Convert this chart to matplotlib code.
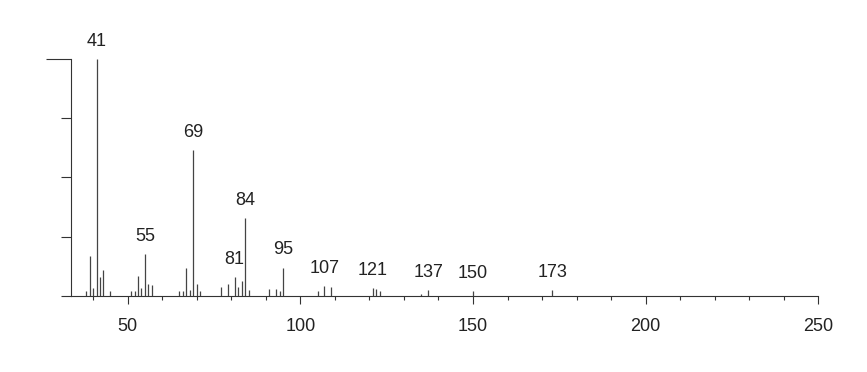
import matplotlib.pyplot as plt
from matplotlib.ticker import FixedLocator

plt.rcParams['font.family'] = ['Liberation Sans', 'DejaVu Sans']

# m/z and relative intensity (%)
mz = [38, 39, 40, 41, 42, 43, 45,
      51, 52, 53, 54, 55, 56, 57,
      65, 66, 67, 68, 69, 70, 71,
      77, 79, 81, 82, 83, 84, 85,
      91, 93, 94, 95,
      105, 107, 109,
      121, 122, 123,
      135, 137, 150, 173]
intensity = [2, 17, 3.5, 100, 8, 11, 2,
             2, 2, 8.5, 3.5, 17.5, 5, 4.5,
             2, 2, 12, 2.5, 61.5, 5, 2,
             4, 5, 8, 4, 6.5, 33, 2.5,
             3, 3, 2, 12,
             2, 4.3, 4,
             3.2, 2.8, 2,
             1, 2.4, 2, 2.5]

labelled = [41, 55, 69, 81, 84, 95, 107, 121, 137, 150, 173]

major_x = [50, 100, 150, 200, 250]
minor_x = [40, 60, 70, 80, 90, 110, 120, 130, 140, 160, 170, 180, 190,
           210, 220, 230, 240]

fig = plt.figure(figsize=(8.67, 3.72), dpi=100)
ax = fig.add_axes([0.0815, 0.2043, 0.8624, 0.6505])

ax.vlines(mz, 0, intensity, color='#444444', linewidth=0.9)

for m in labelled:
    h = intensity[mz.index(m)]
    ax.annotate(str(m), (m, h), xytext=(0, 9.5), textcoords='offset points',
                ha='center', va='baseline', fontsize=13, color='#222222',
                annotation_clip=False)

ax.set_xlim(33.5, 250)
ax.set_ylim(0, 102)

for s in ['top', 'right']:
    ax.spines[s].set_visible(False)
ax.spines['left'].set_bounds(0, 100)
ax.spines['bottom'].set_bounds(33.5, 250)
for s in ['left', 'bottom']:
    ax.spines[s].set_color('#333333')
    ax.spines[s].set_linewidth(0.8)

ax.xaxis.set_major_locator(FixedLocator(major_x))
ax.xaxis.set_minor_locator(FixedLocator(minor_x))
ax.tick_params(axis='x', which='major', direction='out', length=5.5,
               width=0.8, color='#333333', pad=10, labelsize=13,
               labelcolor='#222222')
ax.tick_params(axis='x', which='minor', direction='out', length=3,
               width=0.8, color='#333333')

ax.yaxis.set_major_locator(FixedLocator([100]))
ax.yaxis.set_minor_locator(FixedLocator([0, 25, 50, 75]))
ax.tick_params(axis='y', which='major', direction='out', length=18,
               width=0.8, color='#333333', labelleft=False)
ax.tick_params(axis='y', which='minor', direction='out', length=7.5,
               width=0.8, color='#333333')

fig.savefig('out.png', dpi=100)
